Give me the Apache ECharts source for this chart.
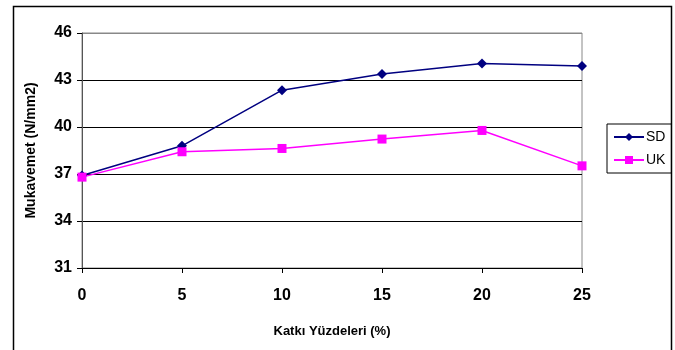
<!DOCTYPE html>
<html>
<head>
<meta charset="utf-8">
<script src="https://cdn.jsdelivr.net/npm/echarts@6/dist/echarts.min.js"></script>
<style>html,body{margin:0;padding:0;background:#fff}#c{width:675px;height:350px}</style>
</head>
<body>
<div id="c"></div>
<script>
var categories = ['0', '5', '10', '15', '20', '25'];
var sdValues = [36.9, 38.8, 42.35, 43.38, 44.06, 43.9];
var ukValues = [36.8, 38.42, 38.63, 39.23, 39.78, 37.52];
var seriesNames = ['SD', 'UK'];
var xTitle = 'Katkı Yüzdeleri (%)';
var yTitle = 'Mukavemet (N/mm2)';

var chart = echarts.init(document.getElementById('c'), null, {renderer: 'canvas'});
var font = 'Liberation Sans, Arial, sans-serif';
chart.setOption({
  animation: false,
  backgroundColor: '#fff',
  graphic: [{
    type: 'rect', shape: {x: 13.5, y: 6.5, width: 658, height: 400},
    style: {fill: 'none', stroke: '#000', lineWidth: 1.5}, z: -1
  }],
  grid: {left: 82, right: 93, top: 33, bottom: 82, show: true, borderColor: '#888', borderWidth: 1, backgroundColor: 'transparent'},
  legend: {
    orient: 'vertical', left: 607, top: 124, width: 62,
    padding: [6, 6, 6, 6], itemGap: 9,
    borderColor: '#000', borderWidth: 1,
    itemWidth: 30, itemHeight: 10,
    textStyle: {fontFamily: font, fontSize: 14, color: '#000', padding: [0, 0, 0, -3]},
    data: seriesNames
  },
  xAxis: {
    type: 'category', data: categories, boundaryGap: false,
    name: xTitle, nameLocation: 'middle', nameGap: 57,
    nameTextStyle: {fontFamily: font, fontSize: 13, fontWeight: 'bold', color: '#000'},
    axisLine: {lineStyle: {color: '#000', width: 1}},
    axisTick: {show: true, length: 5, lineStyle: {color: '#000'}},
    axisLabel: {fontFamily: font, fontSize: 16, fontWeight: 'bold', color: '#000', margin: 20},
    splitLine: {show: false}
  },
  yAxis: {
    type: 'value', min: 31, max: 46, interval: 3,
    name: yTitle, nameLocation: 'middle', nameGap: 44,
    nameTextStyle: {fontFamily: font, fontSize: 14, fontWeight: 'bold', color: '#000'},
    axisLine: {show: true, lineStyle: {color: '#555', width: 1}},
    axisTick: {show: true, length: 5, lineStyle: {color: '#000'}},
    axisLabel: {fontFamily: font, fontSize: 16, fontWeight: 'bold', color: '#000', margin: 10},
    splitLine: {show: true, lineStyle: {color: ['#000', '#000', '#000', '#000', '#000', '#888'], width: 1}}
  },
  series: [{
    name: seriesNames[0], type: 'line', data: sdValues,
    symbol: 'diamond', symbolSize: 10,
    itemStyle: {color: '#000080'}, lineStyle: {color: '#000080', width: 1.5}
  }, {
    name: seriesNames[1], type: 'line', data: ukValues,
    symbol: 'rect', symbolSize: 9,
    itemStyle: {color: '#FF00FF'}, lineStyle: {color: '#FF00FF', width: 1.5}
  }]
});
</script>
</body>
</html>
